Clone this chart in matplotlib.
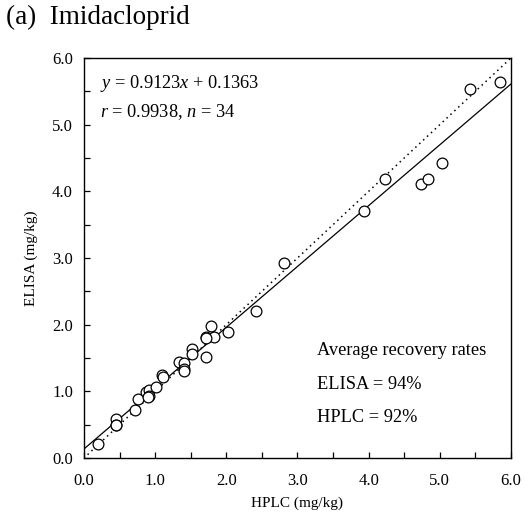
import matplotlib
matplotlib.use("Agg")
import matplotlib.pyplot as plt
import numpy as np

plt.rcParams['font.family'] = ['Liberation Serif', 'DejaVu Serif']
plt.rcParams['mathtext.fontset'] = 'custom'
plt.rcParams['mathtext.rm'] = 'Liberation Serif'
plt.rcParams['mathtext.it'] = 'Liberation Serif:italic'

hplc = [0.19, 0.45, 0.45, 0.45, 0.72, 0.76, 0.87, 0.91, 0.91, 0.90, 1.01, 1.10, 1.11,
        1.34, 1.40, 1.41, 1.41, 1.52, 1.52, 1.71, 1.71, 1.78, 1.82, 1.71, 2.02, 2.42,
        2.81, 3.93, 4.23, 4.74, 4.84, 5.03, 5.43, 5.84]
elisa = [0.21, 0.58, 0.49, 0.50, 0.72, 0.88, 0.99, 1.02, 0.93, 0.92, 1.06, 1.24, 1.21,
         1.44, 1.42, 1.33, 1.31, 1.64, 1.56, 1.81, 1.52, 1.98, 1.82, 1.80, 1.89, 2.21,
         2.93, 3.70, 4.18, 4.11, 4.18, 4.43, 5.53, 5.64]
slope, intercept = 0.9123, 0.1363
ticks = [0.0, 1.0, 2.0, 3.0, 4.0, 5.0, 6.0]

fig = plt.figure(figsize=(5.27, 5.14), dpi=100)
ax = fig.add_axes([0.1594, 0.1089, 0.8102, 0.7783])

xl = np.array([0.0, 6.0])
ax.plot(xl, slope * xl + intercept, color='black', lw=0.9)
ax.plot([0.05, 6.0], [0.05, 6.0], color='black', lw=1.1, ls=(0, (1, 2.5)))
ax.scatter(hplc, elisa, s=60, facecolors='white', edgecolors='black', linewidths=0.9, zorder=3)

ax.set_xlim(0, 6)
ax.set_ylim(0, 6)
ax.set_xticks(ticks)
ax.set_yticks(ticks)
ax.set_xticklabels([f"{t:.1f}" for t in ticks], fontsize=12)
ax.set_yticklabels([f"{t:.1f}" for t in ticks], fontsize=12)
ax.set_xticks(np.arange(0.5, 6, 1.0), minor=True)
ax.set_yticks(np.arange(0.5, 6, 1.0), minor=True)
ax.tick_params(which='both', direction='in', length=4, width=0.9, top=False, right=False)
ax.tick_params(axis='x', pad=11)
ax.tick_params(axis='y', pad=8)
for s in ax.spines.values():
    s.set_linewidth(1.0)

ax.set_xlabel("HPLC (mg/kg)", fontsize=11, labelpad=5)
ax.set_ylabel("ELISA (mg/kg)", fontsize=11, labelpad=10)

fs = 13.2
ax.text(0.22, 5.61, r"$y$ = 0.9123$x$ + 0.1363", fontsize=fs, va='center', ha='left')
ax.text(0.22, 5.19, r"$r$ = 0.9938, $n$ = 34", fontsize=fs, va='center', ha='left')
ax.text(3.27, 1.62, "Average recovery rates", fontsize=fs, va='center', ha='left')
ax.text(3.27, 1.11, "ELISA = 94%", fontsize=fs, va='center', ha='left')
ax.text(3.27, 0.61, "HPLC = 92%", fontsize=fs, va='center', ha='left')

fig.text(0.012, 0.966, "(a)  Imidacloprid", fontsize=19.5, va='center', ha='left')

fig.savefig("out.png", dpi=100)
